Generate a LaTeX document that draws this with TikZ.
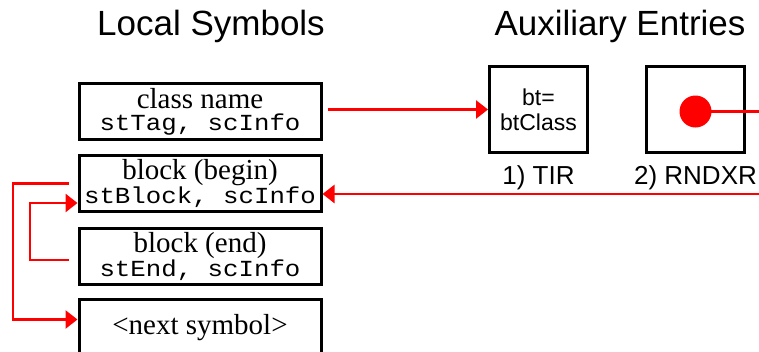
\documentclass[tikz,border=0pt]{standalone}
\usepackage{fontspec}
\setmainfont{Liberation Serif}
\setsansfont{Liberation Sans}
\newfontfamily\boxmono[FakeStretch=1.12]{Liberation Mono}
\usepackage{tikz}
\usetikzlibrary{arrows.meta,positioning}
\tikzset{
    symbox/.style ={rectangle, draw, line width=3pt, minimum width=242pt, minimum height=56pt,
                    align=center, inner sep=0pt, font=\rmfamily\fontsize{29}{22}\selectfont},
    auxbox/.style ={rectangle, draw, line width=3pt, minimum width=98pt, minimum height=86pt,
                    align=center, inner sep=0pt, font=\sffamily\fontsize{23}{25}\selectfont},
    heading/.style = {anchor=base, inner sep=0pt, font=\sffamily\fontsize{35}{40}\selectfont},
    auxlabel/.style = {inner sep=0pt, font=\sffamily\fontsize{26}{30}\selectfont},
    link/.style = {draw=red, line width=2.6pt, -{Triangle[length=12pt,width=18pt]}},
    plainlink/.style = {draw=red, line width=2.6pt},
    dot/.style = {circle, fill=red, minimum size=32pt, inner sep=0pt}
}
\newcommand{\symtext}[2]{#1\\{\boxmono\fontsize{23}{22}\selectfont #2}}

\begin{document}
\begin{tikzpicture}[x=1pt,y=-1pt]
  \useasboundingbox (0,0) rectangle (759,351);
  \clip (0,0) rectangle (759,351);

  % Draw the headings
  \node[heading] (loc) at (211,35) {Local Symbols};
  \node[heading] (aux) at (620,35) {Auxiliary Entries};

  % Draw the nodes
  \node[symbox] (cls) at (200,111.5) {\symtext{class name}{stTag, scInfo}};
  \node[symbox, below=13pt of cls] (blkbeg) {\symtext{block (begin)}{stBlock, scInfo}};
  \node[symbox, below=14pt of blkbeg] (blkend) {\symtext{block (end)}{stEnd, scInfo}};
  \node[symbox, below=12pt of blkend] (nxt) {<next symbol>};

  \node[auxbox] (tir) at (538.5,109.5) {bt=\\btClass};
  \node[auxbox, right=56pt of tir] (rnd) {};
  \node[dot] (pt) at ([yshift=-2pt]rnd.center) {};
  \node[auxlabel, below=11pt of tir] (tirlab) {1) TIR};
  \node[auxlabel, below=11pt of rnd] (rndlab) {2) RNDXR};

  \coordinate (rx) at (775,109);
  \coordinate (ret) at (775,194);
  \coordinate (outer) at (13,0);
  \coordinate (inner) at (30,0);

  % Draw the arrows
  \draw[link, shorten <=5pt] (cls.east |- tir.west) -- (tir.west);
  \draw[plainlink] (pt.center) -- (pt.center -| rx);
  \draw[link] (ret) -- (ret -| blkbeg.east);
  \draw[link, shorten <=9pt] (blkbeg.west) -- (blkbeg.west -| outer) |- ([yshift=8pt]nxt.west);
  \draw[link, shorten <=9pt] ([yshift=-3.5pt]blkend.west) -- ([yshift=-3.5pt]blkend.west -| inner)
    |- ([yshift=-19.5pt]blkbeg.west);
\end{tikzpicture}
\end{document}
